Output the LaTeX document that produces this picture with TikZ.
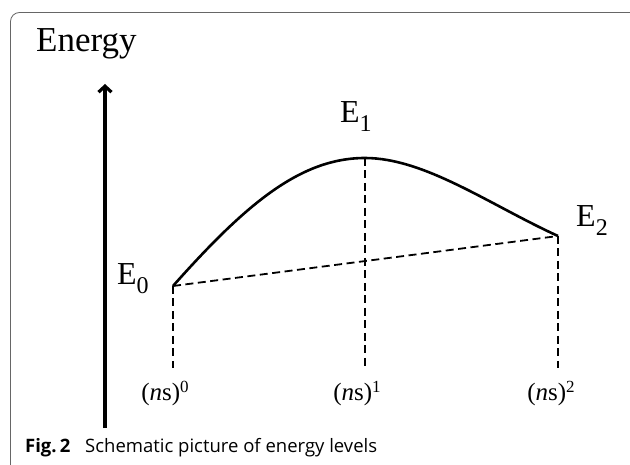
\documentclass[tikz,border=0pt]{standalone}
\usepackage{fontspec}
\setmainfont{Liberation Serif}
\newfontfamily\capfont{Open Sans}
\usepackage{tikz}
\usetikzlibrary{arrows.meta, positioning}

\newcommand{\elevel}[1]{E\raisebox{-9pt}{\fontsize{24}{24}\selectfont #1}}
\newcommand{\nspow}[1]{(\textit{n}s)\raisebox{9pt}{\fontsize{17}{17}\selectfont #1}}

\begin{document}
\begin{tikzpicture}[
    x=1pt, y=-1pt,
    frame/.style={draw=black!60, line width=0.8pt, rounded corners=9pt},
    axis/.style={line width=3.2pt, -{Straight Barb[length=6pt,width=13pt]}},
    curve/.style={line width=2.6pt},
    guide/.style={line width=1.8pt, dash pattern=on 8pt off 4.5pt},
    level/.style={inner sep=0pt, anchor=base west, font=\fontsize{32}{36}\selectfont},
    tick/.style={inner sep=0pt, anchor=base, font=\fontsize{25}{30}\selectfont},
    caption/.style={inner sep=0pt, anchor=base west, font=\capfont\fontsize{18.5}{22}\selectfont}
  ]
  \useasboundingbox (0,0) rectangle (630,465);
  \draw[frame] (10.5,490) |- (660,12.5);

  % energy axis
  \node[inner sep=0pt, anchor=base west, font=\fontsize{35}{40}\selectfont] (ylabel) at (36,52) {Energy};
  \coordinate (ybot) at (105,428);
  \coordinate (ytop) at (105,84);
  \draw[axis] (ybot) -- (ytop);

  % levels
  \coordinate (p0) at (173,286);
  \coordinate (p1) at (365,158);
  \coordinate (p2) at (558,236);
  \coordinate (b0) at (173,368);
  \coordinate (b1) at (365,368);
  \coordinate (b2) at (558,368);

  \draw[curve] (p0) .. controls (245,205) and (300,158) .. (p1)
                    .. controls (425,158) and (490,205) .. (p2);
  \draw[guide] (p0) -- (p2);
  \draw[guide] (p0) -- (b0);
  \draw[guide] (p1) -- (b1);
  \draw[guide] (p2) -- (b2);

  \node[level] (e0) at (117,285) {\elevel{0}};
  \node[level] (e1) at (340,123) {\elevel{1}};
  \node[level] (e2) at (576,227) {\elevel{2}};

  \node[tick] (n0) at (165,401) {\nspow{0}};
  \node[tick] (n1) at (357,401) {\nspow{1}};
  \node[tick] (n2) at (551,401) {\nspow{2}};

  \node[caption] (fig) at (25,453) {\textbf{Fig.\,2}};
  \node[caption] (captext) at (85,453) {Schematic picture of energy levels};
\end{tikzpicture}
\end{document}
